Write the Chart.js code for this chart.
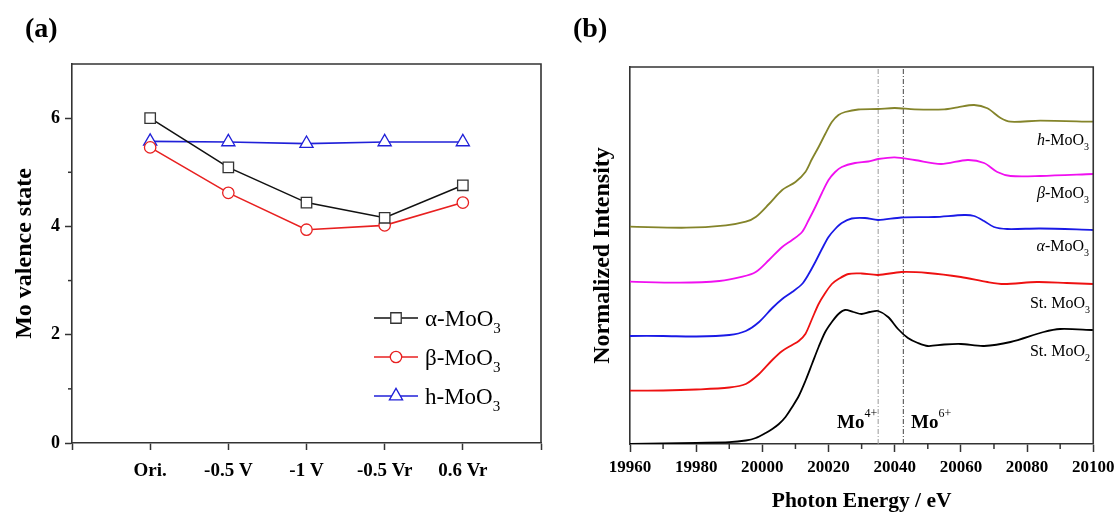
<!DOCTYPE html>
<html><head><meta charset="utf-8">
<script src="https://cdn.jsdelivr.net/npm/chart.js@4.4.1/dist/chart.umd.min.js"></script>
<style>
html,body{margin:0;padding:0;background:#fff;}
#wrap{position:relative;width:1120px;height:515px;overflow:hidden;background:#fff;}
canvas{position:absolute;top:0;}
#ca{left:0;} #cb{left:560px;}
</style></head><body>
<div id="wrap"><canvas id="ca" width="560" height="515"></canvas><canvas id="cb" width="560" height="515"></canvas></div>
<script>
// ---------- Panel (a) data ----------
const conditions = ['Ori.', '-0.5 V', '-1 V', '-0.5 Vr', '0.6 Vr'];
const alphaValence = [6.00, 5.09, 4.44, 4.16, 4.76];
const betaValence  = [5.46, 4.62, 3.94, 4.02, 4.44];
const hexValence   = [5.57, 5.56, 5.53, 5.56, 5.56];
const valenceTicks = [0, 2, 4, 6];
const valenceMinorTicks = [1, 3, 5];

// ---------- Panel (b) data ----------
const energyTicks = [19960, 19980, 20000, 20020, 20040, 20060, 20080, 20100];
const energyMinorTicks = [19970, 19990, 20010, 20030, 20050, 20070, 20090];
const stMoO2Energy = [19960,19970,19980,19990,19995,19998,20001,20003,20005,20007,20009,20011,20013,20015,20017,20019,20021,20023,20025,20027.5,20030,20032.5,20035,20038,20041,20044,20047,20050,20055,20060,20067,20075,20085,20090,20100];
const stMoO2Intensity = [0.00,0.005,0.012,0.018,0.035,0.06,0.11,0.15,0.20,0.27,0.37,0.48,0.63,0.80,0.97,1.12,1.22,1.30,1.34,1.32,1.30,1.32,1.33,1.27,1.15,1.06,1.01,0.98,0.995,1.00,0.98,1.02,1.12,1.15,1.14];
const stMoO3Energy = [19960,19970,19980,19990,19995,19999,20003,20006,20009,20011,20013,20015,20017,20019,20021,20023,20026,20030,20035,20042,20050,20060,20068,20073,20083,20092,20100];
const stMoO3Intensity = [0.533,0.535,0.545,0.565,0.60,0.70,0.84,0.93,0.99,1.03,1.10,1.25,1.40,1.51,1.60,1.65,1.70,1.705,1.69,1.72,1.71,1.67,1.62,1.60,1.62,1.61,1.60];
const alphaEnergy = [19960,19970,19980,19990,19995,19999,20003,20006,20009,20012,20014,20016,20018,20020,20022,20024,20027,20031,20035,20042,20052,20061,20064,20067,20070,20074,20084,20100];
const alphaIntensity = [1.08,1.08,1.075,1.09,1.13,1.22,1.36,1.45,1.52,1.60,1.70,1.82,1.95,2.07,2.15,2.21,2.255,2.26,2.24,2.265,2.27,2.29,2.28,2.23,2.17,2.15,2.155,2.14];
const betaEnergy = [19960,19975,19987,19994,19998,20002,20006,20009,20012,20014,20016,20018,20020,20022,20024,20028,20032,20035,20040,20046,20054,20062,20067,20071,20075,20084,20100];
const betaIntensity = [1.623,1.613,1.63,1.673,1.72,1.84,1.97,2.04,2.12,2.24,2.37,2.51,2.64,2.72,2.77,2.81,2.825,2.85,2.867,2.84,2.80,2.84,2.81,2.72,2.68,2.68,2.70];
const hexEnergy = [19960,19977,19989,19995,19998,20002,20006,20010,20013,20015,20017,20019,20021,20023,20025,20029,20035,20040,20046,20055,20059,20064,20068,20072,20075,20084,20100];
const hexIntensity = [2.173,2.163,2.187,2.223,2.27,2.40,2.54,2.62,2.72,2.85,2.97,3.10,3.22,3.29,3.32,3.345,3.35,3.36,3.347,3.347,3.367,3.39,3.357,3.26,3.223,3.233,3.223];
const edgeMarkers = [20035, 20042.6];
const intensityRange = [0, 3.77];

// ---------- helpers ----------
const SERIF = '"Liberation Serif", "Times New Roman", serif';
const AXIS = '#333';
function pts(xs, ys) { return ys.map((y, i) => ({x: xs[i], y: y})); }
function rich(ctx, x, y, segs, align) {
  let w = 0;
  segs.forEach(s => { ctx.font = s.font; s.w = ctx.measureText(s.text).width; w += s.w; });
  let cx = align === 'right' ? x - w : (align === 'center' ? x - w / 2 : x);
  ctx.textAlign = 'left'; ctx.textBaseline = 'alphabetic';
  segs.forEach(s => { ctx.font = s.font; ctx.fillStyle = s.color || '#000'; ctx.fillText(s.text, cx, y + (s.dy || 0)); cx += s.w; });
}
function marker(ctx, style, r, x, y, stroke, bw) {
  ctx.save();
  ctx.fillStyle = '#fff'; ctx.strokeStyle = stroke; ctx.lineWidth = bw;
  ctx.beginPath();
  if (style === 'rect') { const s = Math.SQRT1_2 * r; ctx.rect(x - s, y - s, 2 * s, 2 * s); }
  else if (style === 'circle') { ctx.arc(x, y, r, 0, Math.PI * 2); }
  else if (style === 'triangle') {
    let a = 0;
    ctx.moveTo(x + Math.sin(a) * r, y - Math.cos(a) * r); a += 2 * Math.PI / 3;
    ctx.lineTo(x + Math.sin(a) * r, y - Math.cos(a) * r); a += 2 * Math.PI / 3;
    ctx.lineTo(x + Math.sin(a) * r, y - Math.cos(a) * r); ctx.closePath();
  }
  ctx.fill(); ctx.stroke();
  ctx.restore();
}
function frame(chart) {
  const {ctx, chartArea: a} = chart;
  ctx.save(); ctx.strokeStyle = AXIS; ctx.lineWidth = 1.6;
  ctx.beginPath(); ctx.moveTo(a.left, a.top); ctx.lineTo(a.right, a.top); ctx.lineTo(a.right, a.bottom); ctx.stroke();
  ctx.restore();
}

// ---------- Chart (a) ----------
const seriesA = [
  {label: 'α', values: alphaValence, color: '#111', mcolor: '#333', style: 'rect', r: 7.4},
  {label: 'β', values: betaValence, color: '#e82020', mcolor: '#e82020', style: 'circle', r: 5.7},
  {label: 'h', values: hexValence, color: '#2020d8', mcolor: '#2020d8', style: 'triangle', r: 7.6}
];
const pluginA = {
  id: 'decorA',
  afterDraw(chart) {
    const {ctx, chartArea: a, scales} = chart;
    frame(chart);
    ctx.save(); ctx.strokeStyle = AXIS; ctx.lineWidth = 1.5;
    valenceMinorTicks.forEach(v => { const y = scales.y.getPixelForValue(v); ctx.beginPath(); ctx.moveTo(a.left, y); ctx.lineTo(a.left - 4, y); ctx.stroke(); });
    ctx.restore();
    // legend
    const ly = [318, 357, 396];
    seriesA.forEach((s, i) => {
      ctx.save(); ctx.strokeStyle = s.color; ctx.lineWidth = 1.6;
      ctx.beginPath(); ctx.moveTo(374, ly[i]); ctx.lineTo(418, ly[i]); ctx.stroke(); ctx.restore();
      marker(ctx, s.style, s.r, 396, ly[i], s.mcolor, 1.3);
      rich(ctx, 425, ly[i] + 8, [
        {text: s.label + '-MoO', font: '23px ' + SERIF},
        {text: '3', font: '15px ' + SERIF, dy: 7}
      ], 'left');
    });
    ctx.font = 'bold 28px ' + SERIF; ctx.fillStyle = '#000'; ctx.textAlign = 'left'; ctx.textBaseline = 'alphabetic';
    ctx.fillText('(a)', 25, 37);
  }
};
new Chart(document.getElementById('ca'), {
  type: 'line',
  data: {
    datasets: seriesA.map(s => ({
      label: s.label + '-MoO3', data: pts([0, 1, 2, 3, 4], s.values),
      borderColor: s.color, borderWidth: 1.6, pointStyle: s.style, pointRadius: s.r,
      pointBorderColor: s.mcolor, pointBackgroundColor: '#fff', pointBorderWidth: 1.3, tension: 0
    }))
  },
  options: {
    responsive: false, animation: false, devicePixelRatio: 1,
    layout: {padding: {top: 64, right: 19, left: 0, bottom: 0}},
    plugins: {legend: {display: false}, tooltip: {enabled: false}},
    scales: {
      x: {
        type: 'linear', min: -1, max: 5,
        afterFit: s => { s.height = 72; },
        ticks: {stepSize: 1, autoSkip: false, maxRotation: 0, color: '#000', padding: 10,
          font: {family: SERIF, size: 19, weight: 'bold'},
          callback: v => (conditions[v] !== undefined ? conditions[v] : '')},
        grid: {drawOnChartArea: false, drawTicks: true, tickLength: 7, tickColor: AXIS, tickWidth: 1.5},
        border: {display: true, color: AXIS, width: 1.6}
      },
      y: {
        type: 'linear', min: 0, max: 7,
        afterFit: s => { s.width = 72; },
        afterBuildTicks: s => { s.ticks = valenceTicks.map(v => ({value: v})); },
        ticks: {color: '#000', padding: 5, font: {family: SERIF, size: 18, weight: 'bold'}},
        grid: {drawOnChartArea: false, drawTicks: true, tickLength: 7, tickColor: AXIS, tickWidth: 1.5},
        border: {display: true, color: AXIS, width: 1.6},
        title: {display: true, text: 'Mo valence state', color: '#000', font: {family: SERIF, size: 24, weight: 'bold'}, padding: {top: 10.6, bottom: 0}}
      }
    }
  },
  plugins: [pluginA]
});

// ---------- Chart (b) ----------
const seriesB = [
  {name: 'St. MoO2', e: stMoO2Energy, v: stMoO2Intensity, color: '#000000'},
  {name: 'St. MoO3', e: stMoO3Energy, v: stMoO3Intensity, color: '#ee1111'},
  {name: 'α-MoO3', e: alphaEnergy, v: alphaIntensity, color: '#1a1ae6'},
  {name: 'β-MoO3', e: betaEnergy, v: betaIntensity, color: '#f010f0'},
  {name: 'h-MoO3', e: hexEnergy, v: hexIntensity, color: '#84842a'}
];
const pluginB = {
  id: 'decorB',
  afterDraw(chart) {
    const {ctx, chartArea: a, scales} = chart;
    frame(chart);
    ctx.save(); ctx.strokeStyle = AXIS; ctx.lineWidth = 1.5;
    energyMinorTicks.forEach(v => { const x = scales.x.getPixelForValue(v); ctx.beginPath(); ctx.moveTo(x, a.bottom); ctx.lineTo(x, a.bottom + 5); ctx.stroke(); });
    ctx.restore();
    const R = 529, F = '16px ' + SERIF, FI = 'italic 16px ' + SERIF, FS = '10px ' + SERIF;
    rich(ctx, R, 145, [{text: 'h', font: FI}, {text: '-MoO', font: F}, {text: '3', font: FS, dy: 5}], 'right');
    rich(ctx, R, 198, [{text: 'β', font: FI}, {text: '-MoO', font: F}, {text: '3', font: FS, dy: 5}], 'right');
    rich(ctx, R, 251, [{text: 'α', font: FI}, {text: '-MoO', font: F}, {text: '3', font: FS, dy: 5}], 'right');
    rich(ctx, R + 1, 308, [{text: 'St. MoO', font: F}, {text: '3', font: FS, dy: 5}], 'right');
    rich(ctx, R + 1, 356, [{text: 'St. MoO', font: F}, {text: '2', font: FS, dy: 5}], 'right');
    rich(ctx, 277, 428, [{text: 'Mo', font: 'bold 19px ' + SERIF}, {text: '4+', font: '12px ' + SERIF, dy: -11}], 'left');
    rich(ctx, 351, 428, [{text: 'Mo', font: 'bold 19px ' + SERIF}, {text: '6+', font: '12px ' + SERIF, dy: -11}], 'left');
    ctx.font = 'bold 28px ' + SERIF; ctx.fillStyle = '#000'; ctx.textAlign = 'left'; ctx.textBaseline = 'alphabetic';
    ctx.fillText('(b)', 13, 37);
  }
};
const curveSets = seriesB.map(s => ({
  label: s.name, data: pts(s.e, s.v), borderColor: s.color, borderWidth: 1.8,
  pointRadius: 0, tension: 0.3, fill: false
}));
const markerSets = edgeMarkers.map((e, i) => ({
  label: 'edge' + i, data: [{x: e, y: intensityRange[0]}, {x: e, y: intensityRange[1]}],
  borderColor: i === 0 ? '#9a9a9a' : '#444', borderWidth: 1, borderDash: [5, 2, 1, 2], pointRadius: 0, tension: 0
}));
new Chart(document.getElementById('cb'), {
  type: 'line',
  data: {datasets: curveSets.concat(markerSets)},
  options: {
    responsive: false, animation: false, devicePixelRatio: 1,
    layout: {padding: {top: 67, right: 25, left: 0, bottom: 0}},
    plugins: {legend: {display: false}, tooltip: {enabled: false}},
    scales: {
      x: {
        type: 'linear', min: 19960, max: 20100,
        afterFit: s => { s.height = 71; },
        afterBuildTicks: s => { s.ticks = energyTicks.map(v => ({value: v})); },
        ticks: {autoSkip: false, maxRotation: 0, color: '#000', padding: 5.5,
          font: {family: SERIF, size: 17, weight: 'bold'}, callback: v => String(v)},
        grid: {drawOnChartArea: false, drawTicks: true, tickLength: 8, tickColor: AXIS, tickWidth: 1.5},
        border: {display: true, color: AXIS, width: 1.6},
        title: {display: true, text: 'Photon Energy / eV', color: '#000', font: {family: SERIF, size: 21.5, weight: 'bold'}, padding: {top: 0, bottom: 1.1}}
      },
      y: {
        type: 'linear', min: intensityRange[0], max: intensityRange[1],
        afterFit: s => { s.width = 70; },
        ticks: {display: false},
        grid: {drawOnChartArea: false, drawTicks: false},
        border: {display: true, color: AXIS, width: 1.6},
        title: {display: true, text: 'Normalized Intensity', color: '#000', font: {family: SERIF, size: 24, weight: 'bold'}, padding: {top: 28.6, bottom: 0}}
      }
    }
  },
  plugins: [pluginB]
});
</script>
</body></html>
